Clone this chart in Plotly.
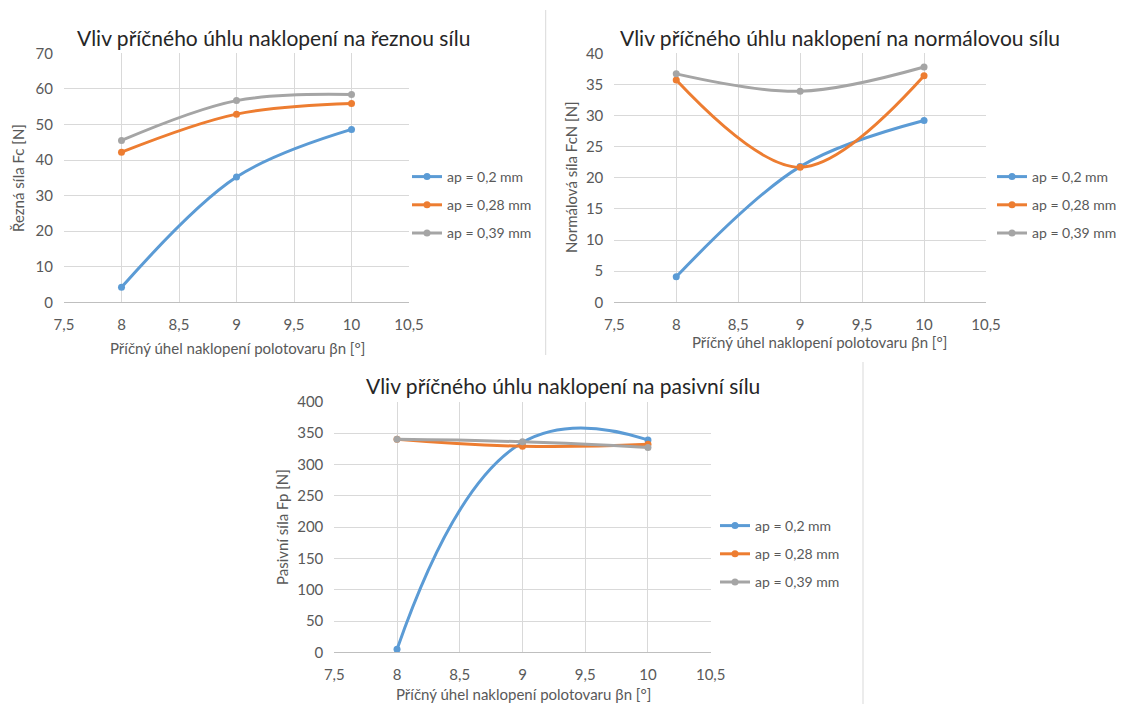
import plotly.graph_objects as go

# Transverse tilt angle of the workpiece (x values)
beta = [8, 9, 10]
series_names = ["ap = 0,2 mm", "ap = 0,28 mm", "ap = 0,39 mm"]
series_colors = ["#5B9BD5", "#ED7D31", "#A5A5A5"]

# Cutting force Fc [N]
fc_02 = [4.2, 35.2, 48.6]
fc_028 = [42.2, 52.9, 55.9]
fc_039 = [45.5, 56.7, 58.4]

# Normal force FcN [N]
fcn_02 = [4.1, 21.8, 29.2]
fcn_028 = [35.7, 21.7, 36.4]
fcn_039 = [36.7, 33.9, 37.8]

# Passive force Fp [N]
fp_02 = [5, 335, 339]
fp_028 = [340, 329, 332]
fp_039 = [340, 336, 327]

x_ticks = [7.5, 8, 8.5, 9, 9.5, 10, 10.5]

W, H = 1121, 704
FONT = "Lato"
TXT = "#595959"
GRID = "#D9D9D9"


def px(x):
    return x / W


def py(y):
    return 1 - y / H


panels = [
    dict(
        data=[fc_02, fc_028, fc_039],
        title="Vliv příčného úhlu naklopení na řeznou sílu",
        ytitle="Řezná síla Fc [N]",
        xdom=(64, 409), ydom=(53.3, 302.3),
        yrange=[0, 70], dtick=10, smoothing=1.0,
        title_pos=(274, 37), xt_pos=(237, 348), yt_pos=(18, 178),
        legend_pos=(407, 161),
    ),
    dict(
        data=[fcn_02, fcn_028, fcn_039],
        title="Vliv příčného úhlu naklopení na normálovou sílu",
        ytitle="Normálová síla FcN [N]",
        xdom=(614.3, 986), ydom=(53.3, 302.3),
        yrange=[0, 40], dtick=5, smoothing=1.0,
        title_pos=(840, 37), xt_pos=(819, 342), yt_pos=(571, 177),
        legend_pos=(992, 161),
    ),
    dict(
        data=[fp_02, fp_028, fp_039],
        title="Vliv příčného úhlu naklopení na pasivní sílu",
        ytitle="Pasivní síla Fp [N]",
        xdom=(334.3, 710.7), ydom=(401.7, 652.4),
        yrange=[0, 400], dtick=50, smoothing=1.3,
        title_pos=(563, 385), xt_pos=(523, 694), yt_pos=(282, 527),
        legend_pos=(715, 510),
    ),
]

fig = go.Figure()
layout = dict(
    width=W, height=H,
    margin=dict(l=0, r=0, t=0, b=0, pad=0, autoexpand=False),
    paper_bgcolor="white", plot_bgcolor="white",
    separators=", ",
    font=dict(family=FONT, color=TXT, size=14),
    annotations=[], shapes=[],
)

for i, p in enumerate(panels, start=1):
    sfx = "" if i == 1 else str(i)
    leg = "legend" if i == 1 else f"legend{i}"
    for vals, name, color in zip(p["data"], series_names, series_colors):
        fig.add_trace(go.Scatter(
            x=beta, y=vals, name=name,
            mode="lines+markers",
            line=dict(color=color, width=3, shape="spline",
                      smoothing=p["smoothing"]),
            marker=dict(color=color, size=7),
            xaxis=f"x{sfx}", yaxis=f"y{sfx}",
            legend=leg, legendgroup=f"{i}-{name}",
        ))

    layout[f"xaxis{sfx}"] = dict(
        domain=[px(p["xdom"][0]), px(p["xdom"][1])],
        anchor=f"y{sfx}", range=[7.5, 10.5],
        tickvals=x_ticks, showgrid=True, gridcolor=GRID, gridwidth=1,
        zeroline=False, showline=True, linecolor="#BFBFBF", linewidth=1,
        ticks="", ticklabelstandoff=9, automargin=False,
        tickfont=dict(size=15, color=TXT, family=FONT),
    )
    layout[f"yaxis{sfx}"] = dict(
        domain=[py(p["ydom"][1]), py(p["ydom"][0])],
        anchor=f"x{sfx}", range=p["yrange"], dtick=p["dtick"],
        showgrid=True, gridcolor=GRID, gridwidth=1,
        zeroline=False, showline=False,
        ticks="", ticklabelstandoff=10, automargin=False,
        tickfont=dict(size=15, color=TXT, family=FONT),
    )
    layout[leg] = dict(
        x=px(p["legend_pos"][0]), y=py(p["legend_pos"][1]),
        xanchor="left", yanchor="top",
        bgcolor="rgba(0,0,0,0)", tracegroupgap=7,
        font=dict(size=14, color=TXT, family=FONT),
        itemwidth=30,
    )
    layout["annotations"] += [
        dict(text=p["title"], x=px(p["title_pos"][0]), y=py(p["title_pos"][1]),
             xref="paper", yref="paper", showarrow=False,
             xanchor="center", yanchor="middle",
             font=dict(size=21, color="#262626", family=FONT)),
        dict(text="Příčný úhel naklopení polotovaru βn [°]",
             x=px(p["xt_pos"][0]), y=py(p["xt_pos"][1]),
             xref="paper", yref="paper", showarrow=False,
             xanchor="center", yanchor="middle",
             font=dict(size=15, color=TXT, family=FONT)),
        dict(text=p["ytitle"], x=px(p["yt_pos"][0]), y=py(p["yt_pos"][1]),
             xref="paper", yref="paper", showarrow=False, textangle=-90,
             xanchor="center", yanchor="middle",
             font=dict(size=15, color=TXT, family=FONT)),
    ]

# thin separators between the individual charts
layout["shapes"] += [
    dict(type="line", xref="paper", yref="paper",
         x0=px(545.7), x1=px(545.7), y0=py(10), y1=py(355),
         line=dict(color=GRID, width=1)),
    dict(type="line", xref="paper", yref="paper",
         x0=px(863), x1=px(863), y0=py(362), y1=0,
         line=dict(color=GRID, width=1)),
]

fig.update_layout(**layout)
fig.write_html("out.html")
